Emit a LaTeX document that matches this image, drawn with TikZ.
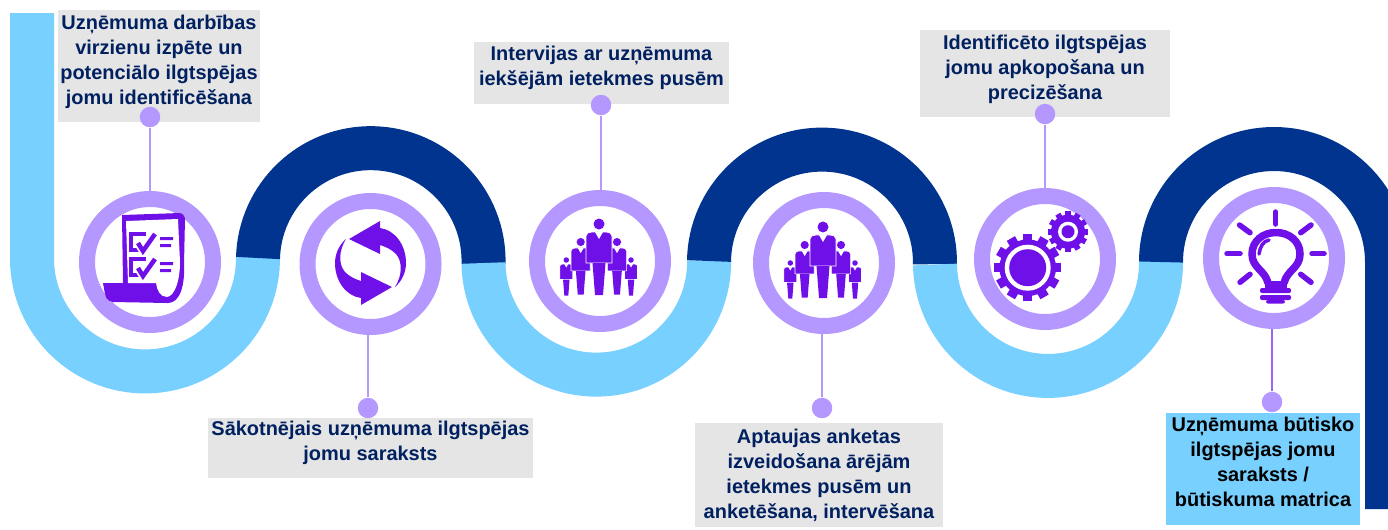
\documentclass[tikz,border=0pt]{standalone}
\usepackage{fontspec}
\setmainfont{Liberation Sans}
\definecolor{bandlight}{HTML}{78D0FF}
\definecolor{banddark}{HTML}{00348E}
\definecolor{ringcol}{HTML}{B598FF}
\definecolor{iconcol}{HTML}{7010E8}
\definecolor{notegray}{HTML}{E5E5E5}
\definecolor{notetext}{HTML}{002060}
\definecolor{linecol}{HTML}{9A66EE}
\def\dx{.02cm}

\begin{document}
\begin{tikzpicture}[x=\dx,y=-\dx]
  \tikzset{band/.style={line width=44*\dx},
    note/.style={fill=notegray,text=notetext,inner sep=0,outer sep=0,align=center,font=\fontsize{11.35}{14.2}\selectfont\bfseries},
    ring/.style={circle,draw=ringcol,line width=16*\dx,minimum size=126*\dx,inner sep=0,fill=white},
    pin/.style={circle,fill=ringcol,minimum size=20.5*\dx,inner sep=0},
    person/.pic={
      \fill[iconcol] (0,0) circle[radius=5.5];
      \filldraw[iconcol,draw=white,line width=.7*\dx] (-13,12) .. controls (-13,9) and (-10,8) .. (-7,8) -- (7,8) .. controls (10,8) and (13,9) .. (13,12) -- (13,39) -- (-13,39) -- cycle;
      \fill[white] (-4,8) -- (0,15) -- (4,8) -- cycle;
      \fill[iconcol] (-6.5,39) -- (6.5,39) -- (4,71) -- (-4,71) -- cycle;
    },
    gear/.pic={
      \fill[iconcol] (0,0) circle[radius=.84];
      \foreach \a in {0,30,...,330} {
        \fill[iconcol,rotate=\a] (.8,-.14) rectangle (1,.14);
      }
    }}
  \useasboundingbox (0,0) rectangle (1388,529);

  \draw[band,bandlight] (32,13) -- (32,260) arc[start angle=179.2,delta angle=-180,radius=113];
  \draw[band,banddark] (258,258) arc[start angle=181.5,delta angle=180,radius=112.8];
  \draw[band,bandlight] (483.5,263) arc[start angle=179.4,delta angle=-180,radius=112.8];
  \draw[band,banddark] (709,261) arc[start angle=180.8,delta angle=180,radius=113];
  \draw[band,bandlight] (935,264.5) arc[start angle=179.2,delta angle=-180,radius=113];
  \draw[band,banddark] (1161,262) arc[start angle=180,delta angle=180,radius=113] -- (1387,509);

  \node[note,minimum width=202*\dx,minimum height=112*\dx,text depth=13*\dx] (note1) at (159,66) {Uzņēmuma darbības\\virzienu izpēte un\\potenciālo ilgtspējas\\jomu identificēšana};
  \node[note,minimum width=325*\dx,minimum height=60*\dx,text depth=15*\dx] (note2) at (370.5,448) {Sākotnējais uzņēmuma ilgtspējas\\jomu saraksts};
  \node[note,minimum width=255*\dx,minimum height=62*\dx,text depth=14*\dx] (note3) at (601.5,73) {Intervijas ar uzņēmuma\\iekšējām ietekmes pusēm};
  \node[note,minimum width=248*\dx,minimum height=104*\dx,text depth=3*\dx] (note4) at (819,475) {Aptaujas anketas\\izveidošana ārējām\\ietekmes pusēm un\\anketēšana, intervēšana};
  \node[note,minimum width=250*\dx,minimum height=87*\dx,text depth=13*\dx] (note5) at (1045,73.5) {Identificēto ilgtspējas\\jomu apkopošana un\\precizēšana};
  \node[note,minimum width=194*\dx,minimum height=112*\dx,text depth=14*\dx,fill=bandlight,text=black] (note6) at (1263,469) {Uzņēmuma būtisko\\ilgtspējas jomu\\saraksts /\\būtiskuma matrica};

  \foreach \n/\x/\y/\px/\py/\c/\s in {1/150/262/150/117/ringcol/north,2/370.5/264/368/408/ringcol/south,3/600/261/601/105/ringcol/north,4/824/263/822/408/ringcol/south,5/1045/259/1045/114/ringcol/north,6/1274/258/1272/402/linecol/south} {
    \node[ring] (ring\n) at (\x,\y) {};
    \node[pin] (pin\n) at (\px,\py) {};
    \draw[\c,line width=1.5*\dx] (pin\n) -- (pin\n |- ring\n.\s);
  }

  \fill[iconcol] (122,215) -- (180,213) .. controls (183,214) .. (185,218) -- (184,265) .. controls (185,285) and (180,303) .. (168,303) -- (113,302) .. controls (106,300) .. (103,283) -- (123,283) -- cycle;
  \fill[white] (126,221) -- (178,219) -- (180,262) .. controls (180,280) and (175,296) .. (167,297) .. controls (160,297) and (157,290) .. (156,283) -- (128,283) -- cycle;
  \foreach \y in {0,25} {
    \draw[iconcol,line width=4*\dx] (146,234+\y) -- (131,234+\y) -- (131,250+\y) -- (144,250+\y);
    \draw[white,line width=8*\dx] (138,243+\y) -- (143,251+\y) -- (155,234+\y);
    \draw[iconcol,line width=4.5*\dx] (138,243+\y) -- (143,251+\y) -- (155,234+\y);
    \fill[iconcol] (160,237+\y) rectangle (173,240+\y) (160,244+\y) rectangle (171,247+\y);
  }

  \foreach \a in {0,180} {
    \fill[iconcol,rotate around={\a:(370.5,263)}] (349,239) -- (380,221) -- (380,228) .. controls (395,230) and (406,245) .. (406,263) .. controls (406,272) and (402,281) .. (395,287) .. controls (402,276) and (403,262) .. (396,254) .. controls (391,249) and (386,247) .. (380,245) -- (380,254) -- cycle;
  }

  \foreach \s in {0,224} {
    \begin{scope}[xshift=\s*\dx]
      \pic[scale=.5] at (566.3,260+\s/75) {person};
      \pic[scale=.5] at (631,260+\s/75) {person};
      \pic[scale=.74] at (580.7,242+\s/75) {person};
      \pic[scale=.74] at (617,242+\s/75) {person};
      \pic at (599,224+\s/75) {person};
    \end{scope}
  }

  \pic[scale=33.7] at (1027.7,267.7) {gear};
  \fill[white] (1027.7,267.7) circle[radius=23];
  \fill[iconcol] (1027.7,267.7) circle[radius=18.5];
  \pic[scale=20.3] at (1068,231.7) {gear};
  \fill[white] (1068,231.7) circle[radius=10];
  \fill[iconcol] (1068,231.7) circle[radius=6.5];

  \draw[iconcol,line width=7.5*\dx] (1268,283) .. controls (1265,270) and (1252,268) .. (1252,254) .. controls (1252,241) and (1263,232.5) .. (1276,232.5) .. controls (1289,232.5) and (1300,241) .. (1300,254) .. controls (1300,268) and (1287,270) .. (1284,283);
  \draw[iconcol,line width=3.5*\dx,line cap=round] (1269,240) .. controls (1263,241) and (1260,247) .. (1259,254);
  \fill[iconcol] (1265,281) -- (1287,281) -- (1287,288) -- (1265,288) -- cycle;
  \fill[iconcol,rounded corners=2*\dx] (1260,288) rectangle (1291,293) (1260,295) rectangle (1291,300);
  \fill[iconcol,rounded corners=2*\dx] (1266,300) rectangle (1285,303.5);
  \foreach \xa/\ya/\xb/\yb in {1275.7/212/1275.7/224,1239.5/225/1250/232.7,1311/225/1300.7/232.7,1227/253.7/1240/253.7,1312/253.7/1324/253.7,1240/282.3/1250/274.3,1311/282.3/1300.7/274.3} {
    \draw[iconcol,line width=5.5*\dx,line cap=round] (\xa,\ya) -- (\xb,\yb);
  }
\end{tikzpicture}
\end{document}
